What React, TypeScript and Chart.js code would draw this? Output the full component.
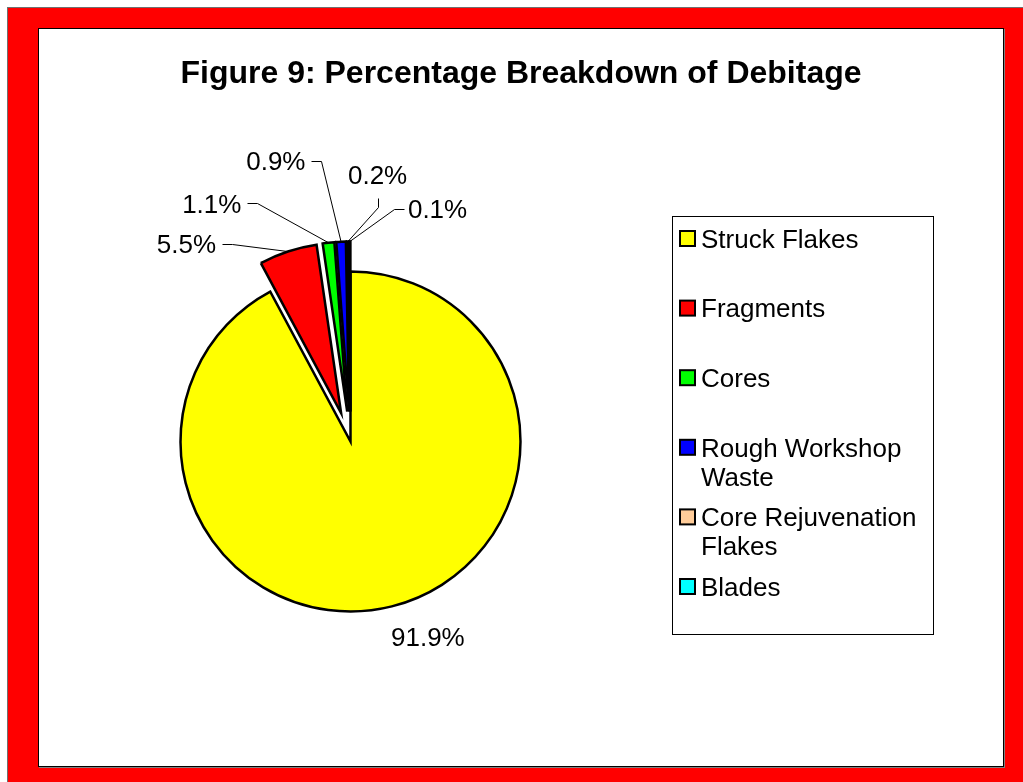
import React, { useEffect, useRef } from 'react';
import { Chart, registerables } from 'chart.js';

Chart.register(...registerables);

// ---------- data ----------
const TITLE = 'Figure 9: Percentage Breakdown of Debitage';
const categories = [
  'Struck Flakes',
  'Fragments',
  'Cores',
  'Rough Workshop Waste',
  'Core Rejuvenation Flakes',
  'Blades',
];
const percentages = [91.9, 5.5, 1.1, 0.9, 0.2, 0.1];
const valueLabels = ['91.9%', '5.5%', '1.1%', '0.9%', '0.2%', '0.1%'];

// ---------- styles / layout ----------
const sliceColors = ['#FFFF00', '#FF0000', '#00FF00', '#0000FF', '#FFCC99', '#00FFFF'];
const explodeBy = [0, 30, 30, 30, 30, 30];
// label centre relative to the slice's outer-edge anchor, and leader side
const labelDX = [36, -101.5, -116.7, -65.2, 29.6, 87.7];
const labelDY = [30, -8, -39.4, -81.2, -66.5, -32.5];
const leaderSide = ['none', 'right', 'right', 'right', 'bottom', 'left'];

const FONT = '"Liberation Sans", Arial, Helvetica, sans-serif';
const CANVAS_W = 963;
const CANVAS_H = 736;

const explodePlugin = {
  id: 'explodeSlices',
  afterDatasetUpdate(chart: any, args: any) {
    const meta = args.meta;
    meta.data.forEach((arc: any, i: number) => {
      const e = explodeBy[i] || 0;
      const mid = (arc.startAngle + arc.endAngle) / 2;
      arc.x += Math.cos(mid) * e;
      arc.y += Math.sin(mid) * e;
    });
  },
};

const decorPlugin = {
  id: 'decor',
  afterDraw(chart: any) {
    const ctx: CanvasRenderingContext2D = chart.ctx;
    ctx.save();

    // title
    ctx.font = `bold 32px ${FONT}`;
    ctx.fillStyle = '#000';
    ctx.textBaseline = 'alphabetic';
    ctx.textAlign = 'center';
    ctx.fillText(TITLE, 482, 54);

    // data labels with leader lines
    const meta = chart.getDatasetMeta(0);
    const fs = 26;
    ctx.font = `${fs}px ${FONT}`;
    ctx.textAlign = 'center';
    ctx.strokeStyle = '#000';
    ctx.lineWidth = 1;
    meta.data.forEach((arc: any, i: number) => {
      const mid = (arc.startAngle + arc.endAngle) / 2;
      const R = arc.outerRadius;
      const ax = arc.x + Math.cos(mid) * R;
      const ay = arc.y + Math.sin(mid) * R;
      const cx = ax + labelDX[i];
      const cy = ay + labelDY[i];
      const txt = valueLabels[i];
      const w = ctx.measureText(txt).width;
      ctx.fillStyle = '#000';
      ctx.fillText(txt, cx, cy + 0.358 * fs);
      const side = leaderSide[i];
      if (side === 'none') return;
      let sx0 = cx, sy0 = cy, ex = cx, ey = cy;
      if (side === 'right') {
        sx0 = cx + w / 2 + 6; ex = cx + w / 2 + 16;
      } else if (side === 'left') {
        sx0 = cx - w / 2 - 4; ex = cx - w / 2 - 14;
      } else if (side === 'bottom') {
        sy0 = cy + 23; ey = cy + 32;
      }
      ctx.beginPath();
      ctx.moveTo(Math.round(sx0) + 0.5, Math.round(sy0) + 0.5);
      ctx.lineTo(Math.round(ex) + 0.5, Math.round(ey) + 0.5);
      ctx.lineTo(ax, ay);
      ctx.stroke();
    });

    // legend
    const lx = 633.5, ly = 187.5, lw = 261, lh = 418;
    ctx.fillStyle = '#fff';
    ctx.fillRect(lx, ly, lw, lh);
    ctx.strokeStyle = '#000';
    ctx.lineWidth = 1;
    ctx.strokeRect(lx, ly, lw, lh);
    ctx.font = `26px ${FONT}`;
    ctx.textAlign = 'left';
    const textX = 662;
    const maxW = 228;
    categories.forEach((cat, i) => {
      const y0 = 209.5 + i * 69.6;
      // swatch
      ctx.fillStyle = sliceColors[i];
      ctx.fillRect(641, y0 - 7.5, 15, 15);
      ctx.lineWidth = 2;
      ctx.strokeStyle = '#000';
      ctx.strokeRect(641, y0 - 7.5, 15, 15);
      // wrapped text
      const words = cat.split(' ');
      const lines: string[] = [];
      let cur = '';
      words.forEach((wd) => {
        const test = cur ? cur + ' ' + wd : wd;
        if (ctx.measureText(test).width > maxW && cur) {
          lines.push(cur);
          cur = wd;
        } else {
          cur = test;
        }
      });
      if (cur) lines.push(cur);
      ctx.fillStyle = '#000';
      lines.forEach((ln, k) => {
        ctx.fillText(ln, textX, y0 + k * 29 + 0.358 * 26);
      });
    });

    ctx.restore();
  },
};

export default function App() {
  const ref = useRef<HTMLCanvasElement | null>(null);

  useEffect(() => {
    document.body.style.margin = '0';
    const canvas = ref.current;
    if (!canvas) return;
    const chart = new Chart(canvas, {
      type: 'pie',
      data: {
        labels: categories,
        datasets: [
          {
            data: percentages,
            backgroundColor: sliceColors,
            borderColor: '#000000',
            borderWidth: 2.5,
            borderJoinStyle: 'miter',
            radius: 170,
          } as any,
        ],
      },
      options: {
        responsive: false,
        maintainAspectRatio: false,
        animation: false,
        events: [],
        layout: { padding: { left: 100, right: 440, top: 150, bottom: 61 } },
        plugins: {
          legend: { display: false },
          title: { display: false },
          tooltip: { enabled: false },
        },
      } as any,
      plugins: [explodePlugin, decorPlugin],
    });
    return () => chart.destroy();
  }, []);

  return (
    <div>
      <div
        style={{
          position: 'fixed',
          left: 7,
          top: 7,
          width: 1040,
          height: 800,
          background: '#FF0000',
          borderTop: '1px solid #707070',
          borderLeft: '1px solid #707070',
          boxSizing: 'border-box',
        }}
      />
      <div
        style={{
          position: 'fixed',
          left: 38,
          top: 28,
          width: 966,
          height: 739,
          background: '#fff',
          border: '1px solid #000',
          boxShadow: '1px 1px 0 #808080',
          boxSizing: 'border-box',
        }}
      />
      <canvas
        ref={ref}
        width={CANVAS_W}
        height={CANVAS_H}
        style={{ position: 'fixed', left: 39, top: 29, width: CANVAS_W, height: CANVAS_H }}
      />
    </div>
  );
}
